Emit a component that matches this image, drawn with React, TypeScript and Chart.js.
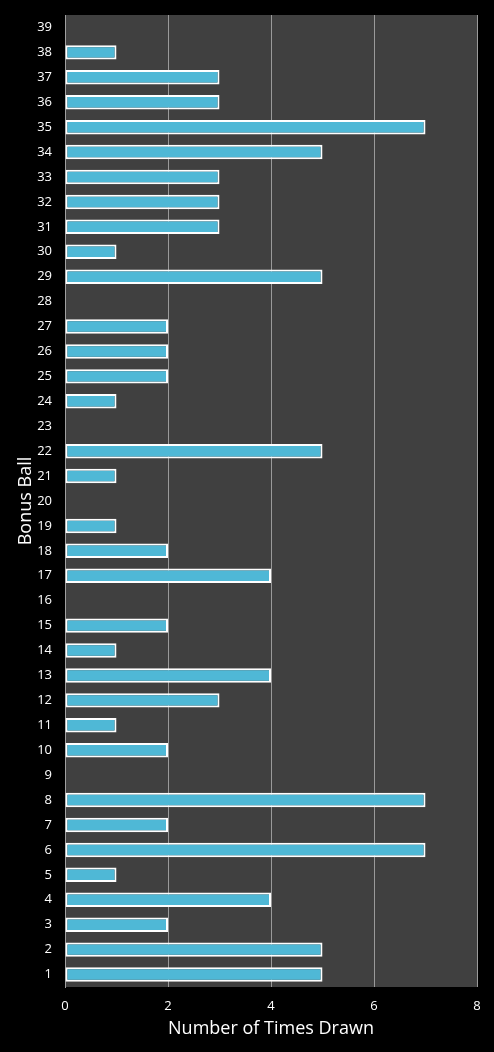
import React, { useEffect, useRef } from "react";
import { Chart, registerables } from "chart.js";

Chart.register(...registerables);

const categories: string[] = Array.from({ length: 39 }, (_, i) => String(i + 1));
const timesDrawn: number[] = [
  5, 5, 2, 4, 1, 7, 2, 7, 0, 2,
  1, 3, 4, 1, 2, 0, 4, 2, 1, 0,
  1, 5, 0, 1, 2, 2, 2, 0, 5, 1,
  3, 3, 3, 5, 7, 3, 3, 1, 0,
];
const xTicks: number[] = [0, 2, 4, 6, 8];

const plotBg = {
  id: "plotBg",
  beforeDraw(chart: any) {
    const { ctx, chartArea } = chart;
    ctx.save();
    ctx.fillStyle = "#000000";
    ctx.fillRect(0, 0, chart.width, chart.height);
    ctx.fillStyle = "#404040";
    ctx.fillRect(chartArea.left, chartArea.top, chartArea.right - chartArea.left, chartArea.bottom - chartArea.top);
    ctx.restore();
  },
};

export default function App() {
  const ref = useRef<HTMLCanvasElement | null>(null);
  useEffect(() => {
    document.body.style.margin = "0";
    document.body.style.background = "#000";
    const font = "'Open Sans', 'DejaVu Sans', sans-serif";
    const chart = new Chart(ref.current!, {
      type: "bar",
      data: {
        labels: categories,
        datasets: [
          {
            data: timesDrawn,
            backgroundColor: "#4fb8d6",
            borderColor: "#ffffff",
            borderWidth: 2,
            borderSkipped: false,
            categoryPercentage: 1,
            barPercentage: 0.58,
          },
        ],
      },
      options: {
        indexAxis: "y",
        animation: false,
        responsive: false,
        maintainAspectRatio: false,
        layout: { padding: { top: 15, right: 17, left: 0, bottom: 0 } },
        plugins: { legend: { display: false }, tooltip: { enabled: false } },
        scales: {
          x: {
            min: 0,
            max: 8,
            afterBuildTicks: (s: any) => { s.ticks = xTicks.map((v) => ({ value: v })); },
            afterFit: (s: any) => { s.height = 65; s.paddingLeft = 0; s.paddingRight = 0; },
            grid: { color: "#9a9a9a", lineWidth: 1, drawTicks: false },
            border: { display: false },
            ticks: { color: "#ffffff", font: { family: font, size: 13 }, padding: 11 },
            title: { display: true, text: "Number of Times Drawn", color: "#ffffff", font: { family: font, size: 18 }, padding: { top: 0, bottom: 12 } },
          },
          y: {
            reverse: true,
            afterFit: (s: any) => { s.width = 65; s.paddingTop = 0; s.paddingBottom = 0; },
            grid: { display: false, drawTicks: false },
            border: { display: true, color: "#a0a0a0" },
            ticks: { color: "#ffffff", font: { family: font, size: 13 }, padding: 13, autoSkip: false },
            title: { display: true, text: "Bonus Ball", color: "#ffffff", font: { family: font, size: 18 }, padding: { top: 15, bottom: 0 } },
          },
        },
      },
      plugins: [plotBg],
    });
    return () => chart.destroy();
  }, []);
  return <canvas ref={ref} width={494} height={1052} style={{ display: "block", width: 494, height: 1052 }} />;
}
